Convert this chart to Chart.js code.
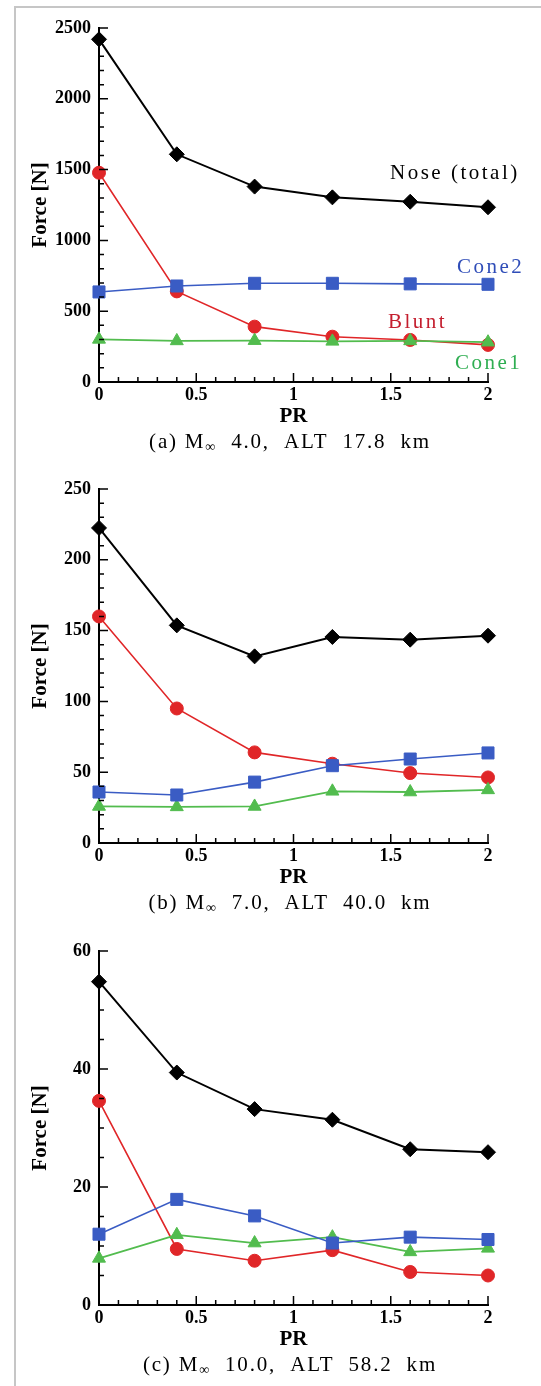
<!DOCTYPE html>
<html><head><meta charset="utf-8">
<script src="https://cdn.jsdelivr.net/npm/chart.js@4"></script>
<style>
html,body{margin:0;padding:0;background:#fff;}
#wrap{position:relative;width:541px;height:1386px;overflow:hidden;background:#fff;}
#frame{position:absolute;left:14px;top:6px;width:600px;height:1500px;border-left:2px solid #c6c6c6;border-top:2px solid #c6c6c6;}
.pan{position:absolute;left:0;width:541px;height:462px;}
</style></head><body>
<div id="wrap"><div id="frame"></div>
<div class="pan" style="top:0px"><canvas id="c0" width="541" height="462"></canvas></div>
<div class="pan" style="top:461px"><canvas id="c1" width="541" height="462"></canvas></div>
<div class="pan" style="top:923px"><canvas id="c2" width="541" height="462"></canvas></div>
</div>
<script>
// ---- data ----
const PR = [0, 0.4, 0.8, 1.2, 1.6, 2];
const xTicks = [0, 0.5, 1, 1.5, 2];

// (a) M 4.0, ALT 17.8 km
const noseA  = [2420, 1608, 1380, 1304, 1273, 1234];
const bluntA = [1478, 640, 391, 320, 297, 262];
const cone2A = [636, 678, 697, 697, 693, 690];
const cone1A = [301, 290, 292, 287, 290, 281];
const yTicksA = [0, 500, 1000, 1500, 2000, 2500];

// (b) M 7.0, ALT 40.0 km
const noseB  = [222.5, 153.7, 131.8, 145.5, 143.6, 146.4];
const bluntB = [160, 95, 64, 56, 49.4, 46.3];
const cone2B = [36, 33.9, 43, 54.6, 59.3, 63.6];
const cone1B = [25.8, 25.5, 25.8, 36.5, 36.0, 37.5];
const yTicksB = [0, 50, 100, 150, 200, 250];

// (c) M 10.0, ALT 58.2 km
const noseC  = [54.8, 39.4, 33.2, 31.4, 26.4, 25.9];
const bluntC = [34.6, 9.5, 7.5, 9.3, 5.6, 5.0];
const cone2C = [12.0, 17.9, 15.1, 10.5, 11.5, 11.1];
const cone1C = [7.9, 11.9, 10.5, 11.5, 9.0, 9.6];
const yTicksC = [0, 20, 40, 60];

const captions = [
  ['(a) M', '\u221E', '  4.0,  ALT  17.8  km'],
  ['(b) M', '\u221E', '  7.0,  ALT  40.0  km'],
  ['(c) M', '\u221E', '  10.0,  ALT  58.2  km']
];
const seriesNames = ['Nose (total)', 'Cone2', 'Cone1', 'Blunt'];

// ---- styles ----
const COL = {nose:'#000000', cone2:'#3a5cc4', cone1:'#52bc4e', blunt:'#e02628'};
const TXT = {nose:'#000000', cone2:'#2f4db8', cone1:'#2fae52', blunt:'#c41e2e'};
const tickFont = {family:'"Liberation Serif", "Times New Roman", serif', size:18, weight:'bold'};

function minorList(max, step){ const a=[]; for(let i=0;i<=Math.round(max/step);i++) a.push(+(i*step).toFixed(6)); return a; }

const inTicks = {
  id:'inTicks',
  afterDatasetsDraw(chart, args, o){
    const {ctx, scales:{x,y}, chartArea:a} = chart;
    ctx.save(); ctx.strokeStyle='#000'; ctx.lineWidth=1.5; ctx.beginPath();
    minorList(2, 0.1).forEach(v=>{ const p=x.getPixelForValue(v);
      const major = Math.abs(v*2-Math.round(v*2))<1e-6; ctx.moveTo(p,a.bottom); ctx.lineTo(p,a.bottom-(major?9:5)); });
    minorList(o.ymax, o.yminor).forEach(v=>{ const p=y.getPixelForValue(v);
      const major = Math.abs(v/o.ymajor-Math.round(v/o.ymajor))<1e-6; ctx.moveTo(a.left,p); ctx.lineTo(a.left+(major?9:5),p); });
    ctx.stroke(); ctx.restore();
  }
};

const texts = {
  id:'texts',
  afterDraw(chart, args, o){
    const {ctx, chartArea:a} = chart;
    ctx.save();
    ctx.fillStyle='#000';
    ctx.font='bold 21px "Liberation Serif", serif';
    ctx.textAlign='center'; ctx.textBaseline='middle';
    ctx.translate(41, (a.top+a.bottom)/2); ctx.rotate(-Math.PI/2);
    ctx.fillText('Force [N]', 0, 0);
    ctx.setTransform(1,0,0,1,0,0);
    ctx.fillText('PR', (a.left+a.right)/2, a.bottom+35);
    const cap = captions[o.idx];
    ctx.textAlign='left';
    ctx.letterSpacing='1.8px';
    ctx.font='21px "Liberation Serif", serif';
    const w0=ctx.measureText(cap[0]).width;
    const w2=ctx.measureText(cap[2]).width;
    ctx.font='14px "Liberation Serif", serif';
    const w1=ctx.measureText(cap[1]).width;
    let xs = 290 - (w0+w1+w2)/2, yc = a.bottom+60;
    ctx.font='21px "Liberation Serif", serif';
    ctx.fillText(cap[0], xs, yc);
    ctx.font='14px "Liberation Serif", serif';
    ctx.fillText(cap[1], xs+w0, yc+5);
    ctx.font='21px "Liberation Serif", serif';
    ctx.fillText(cap[2], xs+w0+w1, yc);
    if (o.labels){
      ctx.letterSpacing='2.5px';
      ctx.font='21px "Liberation Serif", serif';
      ctx.fillStyle=TXT.nose;  ctx.fillText(seriesNames[0], 390, 173);
      ctx.fillStyle=TXT.cone2; ctx.fillText(seriesNames[1], 457, 267);
      ctx.fillStyle=TXT.blunt; ctx.fillText(seriesNames[3], 388, 322);
      ctx.fillStyle=TXT.cone1; ctx.fillText(seriesNames[2], 455, 363);
    }
    ctx.restore();
  }
};

function ds(label, vals, color, style, r, order, lw){
  return {label, data: PR.map((p,i)=>({x:p, y:vals[i]})), borderColor:color, backgroundColor:color,
    pointBackgroundColor:color, pointBorderColor:color, pointStyle:style, pointRadius:r, pointBorderWidth:1,
    borderWidth:lw, tension:0, order, clip:false};
}

function make(id, idx, nose, blunt, cone2, cone1, yTicks, yminor, labels){
  const ymax = yTicks[yTicks.length-1], ymajor = yTicks[1]-yTicks[0];
  new Chart(document.getElementById(id), {
    type:'line',
    data:{datasets:[
      ds(seriesNames[0], nose, COL.nose, 'rectRot', 7.5, 0, 2),
      ds(seriesNames[1], cone2, COL.cone2, 'rect', 8.5, 1, 1.6),
      ds(seriesNames[2], cone1, COL.cone1, 'triangle', 7.5, 2, 1.8),
      ds(seriesNames[3], blunt, COL.blunt, 'circle', 6.5, 3, 1.6)
    ]},
    options:{
      responsive:false, animation:false, devicePixelRatio:1,
      layout:{padding:{top:28, right:53, left:0, bottom:0}},
      plugins:{legend:{display:false}, tooltip:{enabled:false}, inTicks:{ymax, yminor, ymajor}, texts:{idx, labels}},
      scales:{
        x:{type:'linear', min:0, max:2, afterFit(s){ s.height=80; },
          afterBuildTicks(s){ s.ticks = xTicks.map(v=>({value:v})); },
          ticks:{font:tickFont, color:'#000', padding:3, callback:(v)=>String(v)},
          grid:{display:false, drawTicks:false}, border:{display:true, color:'#000', width:2}},
        y:{type:'linear', min:0, max:ymax, afterFit(s){ s.width=99; },
          afterBuildTicks(s){ s.ticks = yTicks.map(v=>({value:v})); },
          ticks:{font:tickFont, color:'#000', padding:8, callback:(v)=>String(v)},
          grid:{display:false, drawTicks:false}, border:{display:true, color:'#000', width:2}}
      }
    },
    plugins:[inTicks, texts]
  });
}

make('c0', 0, noseA, bluntA, cone2A, cone1A, yTicksA, 100, true);
make('c1', 1, noseB, bluntB, cone2B, cone1B, yTicksB, 10, false);
make('c2', 2, noseC, bluntC, cone2C, cone1C, yTicksC, 5, false);
</script>
</body></html>
